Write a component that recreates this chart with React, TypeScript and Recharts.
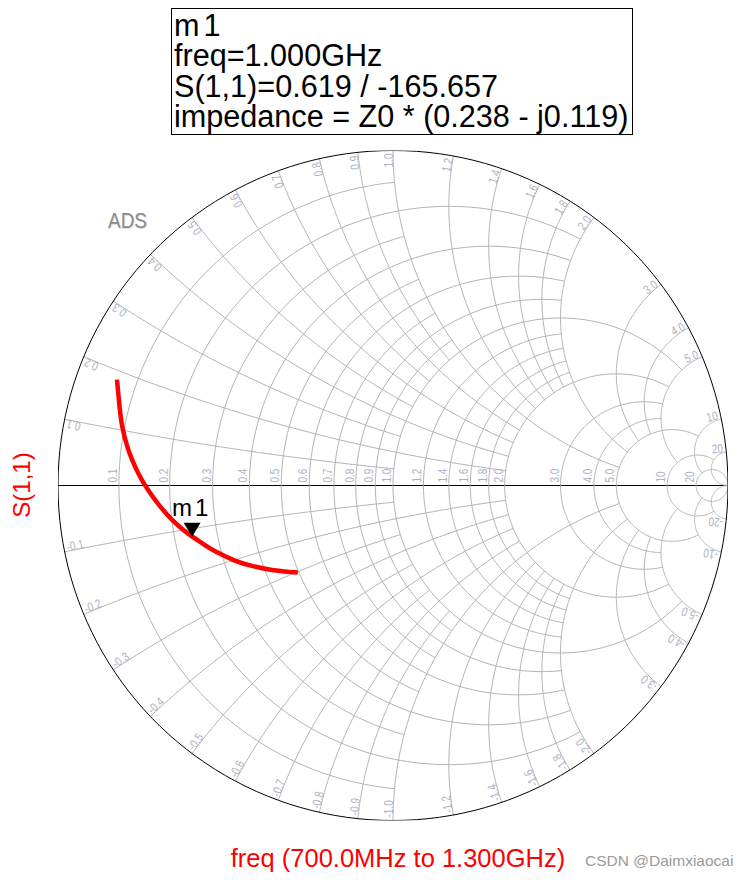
import React from "react";
import { ScatterChart, Scatter, XAxis, YAxis, ReferenceLine, Curve } from "recharts";

// Smith grid values (normalized resistance / reactance)
const gridValues = [0.1, 0.2, 0.3, 0.4, 0.5, 0.6, 0.7, 0.8, 0.9, 1.0, 1.2, 1.4, 1.6, 1.8, 2.0, 3.0, 4.0, 5.0, 10, 20];
const gridLabels = ["0.1", "0.2", "0.3", "0.4", "0.5", "0.6", "0.7", "0.8", "0.9", "1.0", "1.2", "1.4", "1.6", "1.8", "2.0", "3.0", "4.0", "5.0", "10", "20"];
// how far each line runs along the other coordinate
const gridReach = [1, 2, 1, 2, 1, 2, 1, 2, 1, 5, 2, 2, 2, 2, 5, 5, 5, 10, 20, Infinity];

const traceRe = [-0.824, -0.816, -0.8075, -0.794, -0.778, -0.757, -0.73, -0.697, -0.657, -0.624, -0.6, -0.561, -0.528, -0.472, -0.421, -0.361, -0.284];
const traceIm = [0.316, 0.233, 0.173, 0.119, 0.075, 0.03, -0.015, -0.06, -0.105, -0.134, -0.152, -0.178, -0.198, -0.224, -0.24, -0.252, -0.26];

// marker m1
const markerName = "m1";
const markerMag = 0.619;
const markerAngle = -165.657;

const GRID = "#b3b3b3";
const LABEL = "#aab3c4";
const FONT = "'Liberation Sans', Arial, sans-serif";

type P = { gx: number; gy: number; text?: string };

const gamma = (r: number, x: number): P => {
  const den = (r + 1) * (r + 1) + x * x;
  return { gx: (r * r + x * x - 1) / den, gy: (2 * x) / den };
};

// constant resistance circle, clipped at |x| = reach
const rArc = (r: number, reach: number): P[] => {
  const c = r / (1 + r);
  const rho = 1 / (1 + r);
  const end = isFinite(reach) ? gamma(r, reach) : { gx: 1, gy: 0 };
  const a0 = Math.atan2(end.gy, end.gx - c);
  const pts: P[] = [];
  const n = 180;
  for (let i = 0; i <= n; i++) {
    const a = a0 + ((2 * Math.PI - 2 * a0) * i) / n;
    pts.push({ gx: c + rho * Math.cos(a), gy: rho * Math.sin(a) });
  }
  return pts;
};

// constant reactance arc, from the rim to r = reach
const xArc = (x: number, reach: number, sign: number): P[] => {
  const cy = 1 / x;
  const norm = (a: number) => (a + 4 * Math.PI) % (2 * Math.PI);
  const s = gamma(0, x);
  const e = isFinite(reach) ? gamma(reach, x) : { gx: 1, gy: 0 };
  const a0 = norm(Math.atan2(s.gy - cy, s.gx - 1));
  const a1 = norm(Math.atan2(e.gy - cy, e.gx - 1));
  const pts: P[] = [];
  const n = 120;
  for (let i = 0; i <= n; i++) {
    const a = a0 + ((a1 - a0) * i) / n;
    pts.push({ gx: 1 + cy * Math.cos(a), gy: sign * (cy + cy * Math.sin(a)) });
  }
  return pts;
};

const none = () => <g />;

const RLabel = (p: any) => {
  const { cx, cy, payload } = p;
  return (
    <text
      transform={`translate(${cx - 2},${cy - 3}) rotate(-90) scale(1,1.25)`}
      fontSize={10}
      fill={LABEL}
      fontFamily={FONT}
    >
      {payload.text}
    </text>
  );
};

const XLabel = (p: any) => {
  const { cx, cy, payload } = p;
  const th = Math.atan2(payload.gy, payload.gx);
  const px = cx - 3 * Math.cos(th);
  const py = cy + 3 * Math.sin(th);
  const upper = payload.gy >= 0;
  const rot = upper ? (-th * 180) / Math.PI : 180 - (th * 180) / Math.PI;
  return (
    <text
      transform={`translate(${px},${py}) rotate(${rot}) scale(1,1.25)`}
      fontSize={10}
      fill={LABEL}
      fontFamily={FONT}
      textAnchor={upper ? "end" : "start"}
    >
      {payload.text}
    </text>
  );
};

const Marker = (p: any) => {
  const { cx, cy, payload } = p;
  return (
    <g>
      <polygon points={`${cx - 8.5},${cy - 14} ${cx + 8.5},${cy - 14} ${cx},${cy}`} fill="#000" />
      <text x={cx - 20} y={cy - 21} fontSize={24} fontFamily={FONT} fill="#000" letterSpacing={3}>
        {payload.text}
      </text>
    </g>
  );
};

const smoothRed = (p: any) => (
  <Curve points={p.points} type="natural" stroke="#ff0000" strokeWidth={4.5} fill="none" />
);

export default function App() {
  const rLines = gridValues.map((r, i) => rArc(r, gridReach[i]));
  const xLines: P[][] = [];
  gridValues.forEach((x, i) => {
    xLines.push(xArc(x, gridReach[i], 1));
    xLines.push(xArc(x, gridReach[i], -1));
  });
  const rimCircle = rArc(0, Infinity);

  const rLabelData = gridValues.map((r, i) => ({ gx: (r - 1) / (r + 1), gy: 0, text: gridLabels[i] }));
  const xLabelData: P[] = [];
  gridValues.forEach((x, i) => {
    const g = gamma(0, x);
    xLabelData.push({ ...g, text: gridLabels[i] });
    xLabelData.push({ gx: g.gx, gy: -g.gy, text: "-" + gridLabels[i] });
  });

  const trace = traceRe.map((re, i) => ({ gx: re, gy: traceIm[i] }));
  const mRad = (markerAngle * Math.PI) / 180;
  const marker = [{ gx: markerMag * Math.cos(mRad), gy: markerMag * Math.sin(mRad), text: markerName }];

  return (
    <div style={{ position: "relative", width: 735, height: 864 }}>
      <ScatterChart width={735} height={864} margin={{ top: 142.5, right: 15, bottom: 51.5, left: 50 }}>
        <XAxis type="number" dataKey="gx" domain={[-1, 1]} hide allowDataOverflow />
        <YAxis type="number" dataKey="gy" domain={[-1, 1]} hide allowDataOverflow />
        {rLines.map((pts, i) => (
          <Scatter key={"r" + i} data={pts} line={{ stroke: GRID, strokeWidth: 1 }} lineType="joint" shape={none} isAnimationActive={false} />
        ))}
        {xLines.map((pts, i) => (
          <Scatter key={"x" + i} data={pts} line={{ stroke: GRID, strokeWidth: 1 }} lineType="joint" shape={none} isAnimationActive={false} />
        ))}
        <Scatter data={rimCircle} line={{ stroke: "#000", strokeWidth: 1 }} lineType="joint" shape={none} isAnimationActive={false} />
        <ReferenceLine y={0} stroke="#000" strokeWidth={1} />
        <Scatter data={rLabelData} shape={RLabel} isAnimationActive={false} />
        <Scatter data={xLabelData} shape={XLabel} isAnimationActive={false} />
        <Scatter data={trace} fill="#ff0000" line={smoothRed} lineType="joint" shape={none} isAnimationActive={false} />
        <Scatter data={marker} shape={Marker} isAnimationActive={false} />
      </ScatterChart>

      <svg width={735} height={864} style={{ position: "absolute", left: 0, top: 0, pointerEvents: "none" }}>
        <text x={101} y={221} fontSize={22} fontFamily={FONT} fill="#e2e2e2" textLength={39} lengthAdjust="spacingAndGlyphs">ADS</text>
        <text x={100} y={220} fontSize={22} fontFamily={FONT} fill="#8a8a8a" textLength={39} lengthAdjust="spacingAndGlyphs">ADS</text>
        <text transform="translate(22,477) rotate(-90)" fontSize={24} fontFamily={FONT} fill="#ff0000" textAnchor="middle">S(1,1)</text>
        <text x={390} y={859} fontSize={25.5} fontFamily={FONT} fill="#ff0000" textAnchor="middle">freq (700.0MHz to 1.300GHz)</text>
        <text x={577} y={858} fontSize={15.5} fontFamily={FONT} fill="#9a9a9a">CSDN @Daimxiaocai</text>
      </svg>

      <div
        style={{
          position: "absolute",
          left: 163,
          top: 0,
          width: 458,
          height: 124,
          border: "1px solid #000",
          padding: "1px 0 0 2px",
          fontFamily: FONT,
          fontSize: 30.6,
          lineHeight: "30.3px",
          color: "#000",
          background: "#fff",
          whiteSpace: "nowrap",
        }}
      >
        <div style={{ letterSpacing: 4 }}>{markerName}</div>
        <div>freq=1.000GHz</div>
        <div>S(1,1)=0.619 / -165.657</div>
        <div>impedance = Z0 * (0.238 - j0.119)</div>
      </div>
    </div>
  );
}
